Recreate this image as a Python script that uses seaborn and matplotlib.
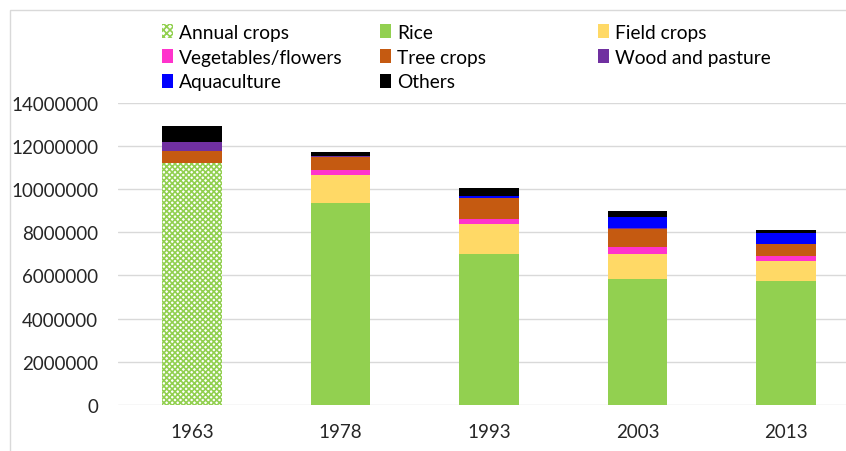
import numpy as np
import pandas as pd
import matplotlib
matplotlib.use('Agg')
import matplotlib.pyplot as plt
import seaborn as sns
from matplotlib.patches import Patch, Rectangle
from matplotlib.ticker import FuncFormatter

# data
years = ['1963', '1978', '1993', '2003', '2013']
annual_crops = [11190000, 0, 0, 0, 0]
rice = [0, 9350000, 7000000, 5830000, 5730000]
field_crops = [0, 1310000, 1400000, 1160000, 950000]
vegetables = [0, 220000, 230000, 310000, 230000]
tree_crops = [580000, 590000, 940000, 860000, 530000]
wood_pasture = [420000, 60000, 30000, 20000, 0]
aquaculture = [0, 20000, 80000, 540000, 520000]
others = [710000, 140000, 370000, 260000, 140000]
yticks = [0, 2000000, 4000000, 6000000, 8000000, 10000000, 12000000, 14000000]

green = '#92D050'
layers = [
    ('Annual crops', annual_crops, green),
    ('Rice', rice, green),
    ('Field crops', field_crops, '#FFD966'),
    ('Vegetables/flowers', vegetables, '#FF33CC'),
    ('Tree crops', tree_crops, '#C55A11'),
    ('Wood and pasture', wood_pasture, '#7030A0'),
    ('Aquaculture', aquaculture, '#0000FF'),
    ('Others', others, '#000000'),
]

sns.set_theme(style='white')
plt.rcParams['font.family'] = ['Lato', 'DejaVu Sans']
plt.rcParams['hatch.linewidth'] = 1.2
plt.rcParams['text.color'] = '#000000'

fig = plt.figure(figsize=(8.46, 4.52), dpi=100)
ax = fig.add_axes([117.75 / 846, 46 / 452, 742.5 / 846, 302.4 / 452])

df = pd.DataFrame({'year': years})
bottom = np.zeros(len(years))
for name, vals, col in layers:
    df[name] = vals
    sns.barplot(x=df['year'], y=df[name], bottom=bottom, color=col,
                width=0.4, errorbar=None, linewidth=0, saturation=1, ax=ax)
    if name == 'Annual crops':
        for p in ax.containers[-1]:
            p.set_facecolor('white')
            p.set_edgecolor(green)
            p.set_hatch('xxxxxx')
    bottom = bottom + np.array(vals)

ax.set_ylim(0, 14000000)
ax.set_xlim(-0.5, 4.5)
ax.set_yticks(yticks)
ax.yaxis.set_major_formatter(FuncFormatter(lambda v, p: '%d' % v))
ax.set_xlabel('')
ax.set_ylabel('')
ax.grid(axis='y', color='#D9D9D9', linewidth=1.0)
ax.set_axisbelow(True)
for s in ax.spines.values():
    s.set_visible(False)
ax.tick_params(axis='y', length=0, pad=14, labelsize=13.5)
ax.tick_params(axis='x', length=0, pad=13, labelsize=13.5)

# legend, three columns as in the reference
def handle(name, col):
    if name == 'Annual crops':
        return Patch(facecolor='white', edgecolor=green, hatch='xxxxx', linewidth=0)
    return Patch(facecolor=col, edgecolor=col, linewidth=0)

cols = [[0, 3, 6], [1, 4, 7], [2, 5]]
col_x = [162, 380, 598]
for idx, x in zip(cols, col_x):
    hs = [handle(layers[i][0], layers[i][2]) for i in idx]
    ls = [layers[i][0] for i in idx]
    leg = fig.legend(hs, ls, loc='upper left', bbox_to_anchor=(x / 846, 1 - 25 / 452),
                     frameon=False, borderpad=0, borderaxespad=0, fontsize=13.8,
                     handlelength=0.55, handleheight=0.75, handletextpad=0.35,
                     labelspacing=0.4)

# light chart-area border
fig.patches.append(Rectangle((10 / 846, -0.1), 1.2, 1.1 - 11 / 452, fill=False,
                             edgecolor='#D9D9D9', linewidth=1.0,
                             transform=fig.transFigure, figure=fig))

fig.savefig('out.png', dpi=100)
